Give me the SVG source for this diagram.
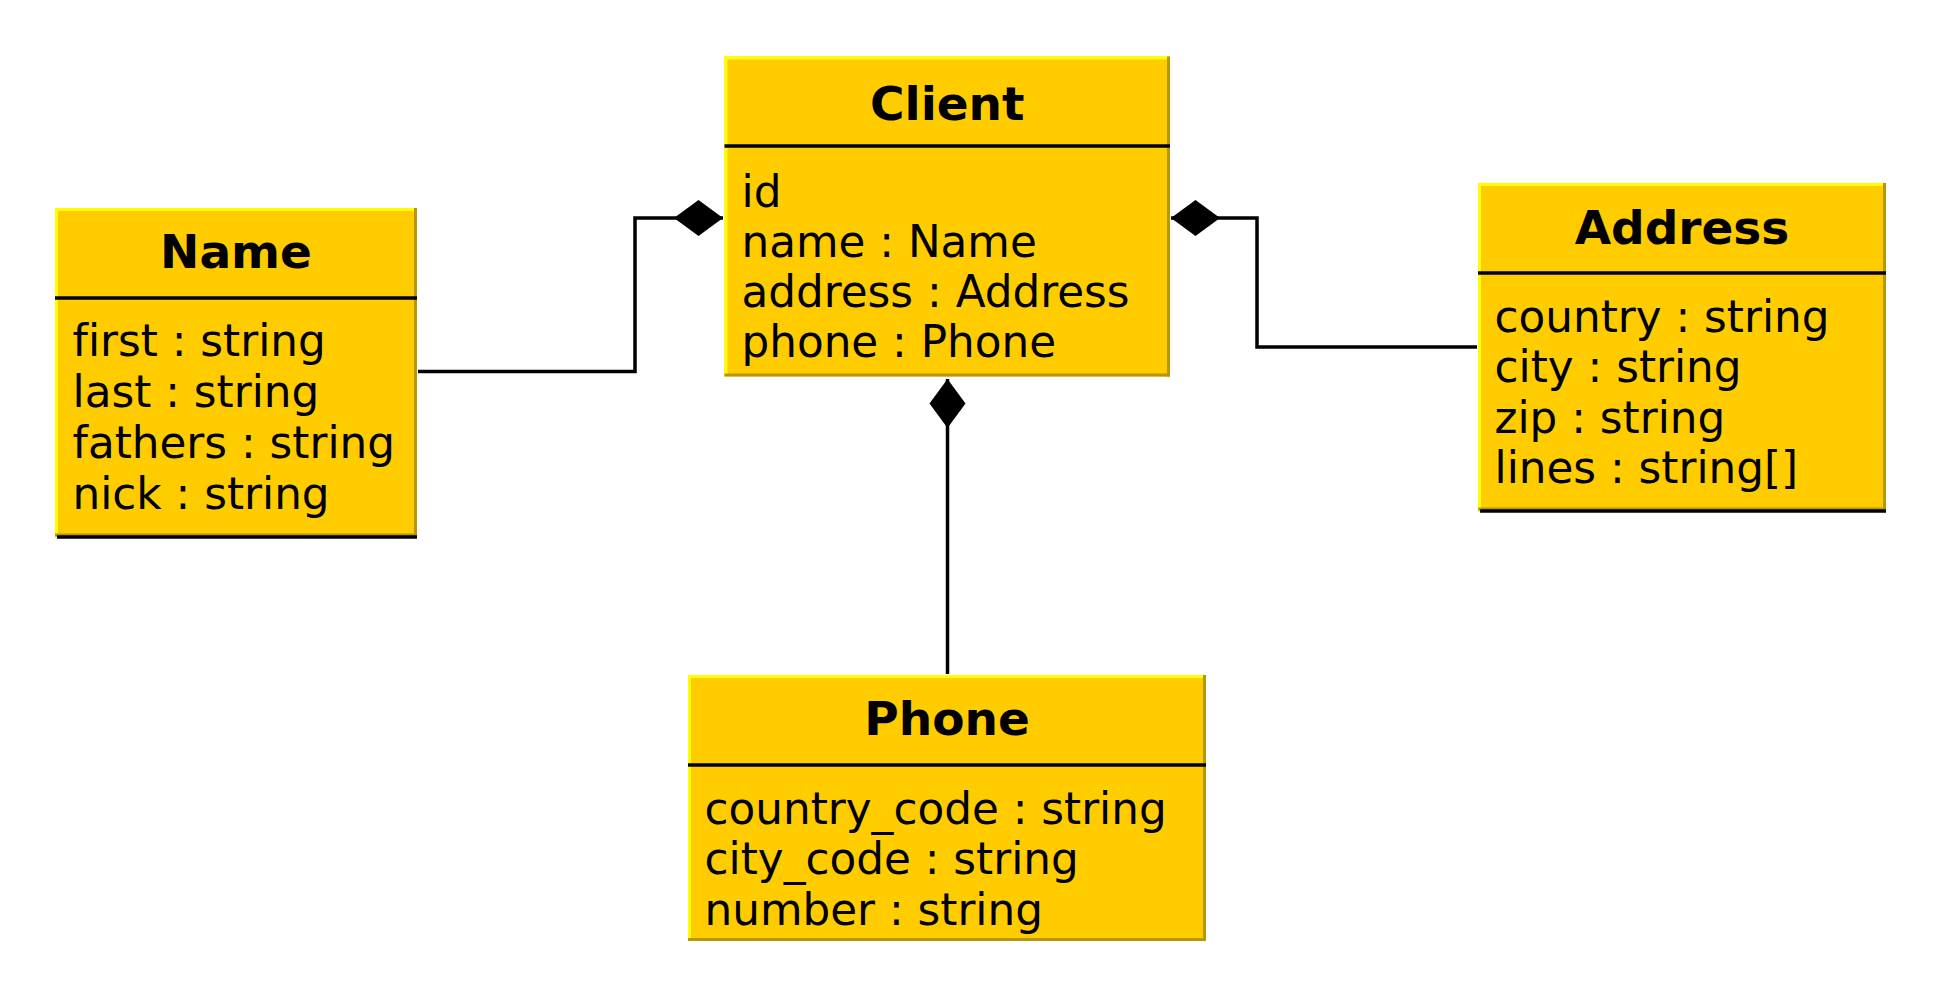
<svg xmlns="http://www.w3.org/2000/svg" width="1941" height="1000" viewBox="0 0 1941 1000">
<defs>
<style>
.box{fill:#FFCC00;}
.hl{stroke:#FFFF00;stroke-width:3;fill:none;}
.sh{stroke:#B8960B;stroke-width:3;fill:none;}
.bk{stroke:#000000;stroke-width:3.5;fill:none;}
.title{font-family:"DejaVu Sans",sans-serif;font-weight:bold;font-size:47px;fill:#000;text-anchor:middle;}
.attr{font-family:"DejaVu Sans",sans-serif;font-size:43.7px;fill:#000;font-variant-ligatures:none;}
.edge{stroke:#000;stroke-width:3.5;fill:none;marker-start:url(#diamond);}
</style>
<marker id="diamond" markerUnits="userSpaceOnUse" orient="auto" refX="0" refY="0" markerWidth="60" markerHeight="40" viewBox="0 -20 60 40" overflow="visible">
<path d="M0,0 L24.5,-18 L49,0 L24.5,18 Z" fill="#000"/>
</marker>
</defs>
<rect width="1941" height="1000" fill="#FFFFFF"/>

<g id="connectors">
<path class="edge" d="M723,218 L635,218 L635,371.5 L418,371.5"/>
<path class="edge" d="M1171,218 L1257,218 L1257,347 L1477,347"/>
<path class="edge" d="M947.5,379 L947.5,674"/>
</g>

<g id="node-name">
<rect class="box" x="55" y="208" width="362" height="330"/>
<line class="hl" x1="55" y1="209.5" x2="417" y2="209.5"/>
<line class="hl" x1="56.5" y1="208" x2="56.5" y2="538"/>
<line class="sh" x1="415.5" y1="208" x2="415.5" y2="538"/>
<line class="sh" x1="55" y1="535" x2="417" y2="535"/>
<line class="bk" x1="57" y1="537" x2="417" y2="537"/>
<line class="bk" x1="55" y1="298" x2="417" y2="298"/>
<text class="title" x="236" y="268">Name</text>
<text class="attr" x="72.5" y="356">first : string</text>
<text class="attr" x="72.5" y="407">last : string</text>
<text class="attr" x="72.5" y="458">fathers : string</text>
<text class="attr" x="72.5" y="509">nick : string</text>
</g>

<g id="node-client">
<rect class="box" x="724.5" y="56.5" width="445.5" height="320"/>
<line class="hl" x1="724.5" y1="58" x2="1170" y2="58"/>
<line class="hl" x1="726" y1="56.5" x2="726" y2="376.5"/>
<line class="sh" x1="1168.5" y1="56.5" x2="1168.5" y2="376.5"/>
<line class="sh" x1="724.5" y1="375" x2="1170" y2="375"/>
<line class="bk" x1="724.5" y1="146" x2="1170" y2="146"/>
<text class="title" x="947.3" y="120">Client</text>
<text class="attr" x="741.5" y="207">id</text>
<text class="attr" x="741.5" y="257">name : Name</text>
<text class="attr" x="741.5" y="307">address : Address</text>
<text class="attr" x="741.5" y="357">phone : Phone</text>
</g>

<g id="node-address">
<rect class="box" x="1478" y="183" width="408" height="329"/>
<line class="hl" x1="1478" y1="184.5" x2="1886" y2="184.5"/>
<line class="hl" x1="1479.5" y1="183" x2="1479.5" y2="512"/>
<line class="sh" x1="1884.5" y1="183" x2="1884.5" y2="512"/>
<line class="sh" x1="1478" y1="509" x2="1886" y2="509"/>
<line class="bk" x1="1480" y1="511" x2="1886" y2="511"/>
<line class="bk" x1="1478" y1="273" x2="1886" y2="273"/>
<text class="title" x="1682" y="244">Address</text>
<text class="attr" x="1494.5" y="332">country : string</text>
<text class="attr" x="1494.5" y="382">city : string</text>
<text class="attr" x="1494.5" y="433">zip : string</text>
<text class="attr" x="1494.5" y="483">lines : string[]</text>
</g>

<g id="node-phone">
<rect class="box" x="688" y="675" width="518" height="266"/>
<line class="hl" x1="688" y1="676.5" x2="1206" y2="676.5"/>
<line class="hl" x1="689.5" y1="675" x2="689.5" y2="941"/>
<line class="sh" x1="1204.5" y1="675" x2="1204.5" y2="941"/>
<line class="sh" x1="688" y1="939.5" x2="1206" y2="939.5"/>
<line class="bk" x1="688" y1="765" x2="1206" y2="765"/>
<text class="title" x="947" y="735">Phone</text>
<text class="attr" x="704.5" y="824">country_code : string</text>
<text class="attr" x="704.5" y="874">city_code : string</text>
<text class="attr" x="704.5" y="925">number : string</text>
</g>
</svg>
